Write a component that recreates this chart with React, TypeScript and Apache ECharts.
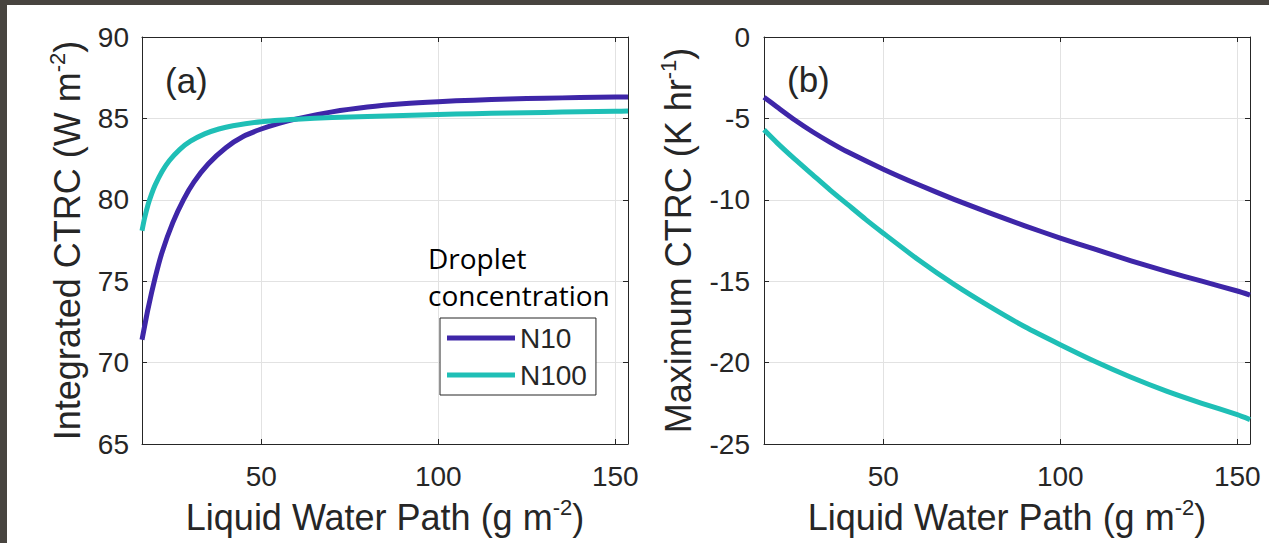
import React, { useEffect, useRef } from "react";
import * as echarts from "echarts";

// Panel (a): Integrated CTRC (W m-2) vs Liquid Water Path (g m-2)
const lwpA_N10 = [16.3, 18, 20, 22, 25, 28, 31, 35, 40, 45, 50, 55, 60, 70, 80, 90, 100, 110, 120, 130, 140, 150, 153.6];
const ctrcA_N10 = [71.4, 73.3, 75.2, 76.8, 78.6, 80.0, 81.1, 82.2, 83.2, 83.9, 84.35, 84.7, 84.97, 85.4, 85.7, 85.9, 86.03, 86.12, 86.19, 86.24, 86.28, 86.31, 86.32];
const lwpA_N100 = [16.3, 17, 18, 19, 20, 22, 24, 27, 30, 34, 38, 42, 50, 60, 70, 80, 90, 100, 110, 120, 130, 140, 150, 153.6];
const ctrcA_N100 = [78.1, 78.85, 79.7, 80.35, 80.9, 81.75, 82.4, 83.1, 83.6, 84.05, 84.35, 84.55, 84.8, 84.95, 85.05, 85.12, 85.18, 85.24, 85.29, 85.33, 85.37, 85.41, 85.44, 85.45];

// Panel (b): Maximum CTRC (K hr-1) vs Liquid Water Path (g m-2)
const lwpB_N10 = [16.3, 20, 25, 30, 35, 40, 50, 60, 70, 80, 90, 100, 110, 120, 130, 140, 150, 153.6];
const ctrcB_N10 = [-3.7, -4.3, -5.1, -5.82, -6.47, -7.07, -8.12, -9.08, -9.97, -10.8, -11.6, -12.35, -13.05, -13.75, -14.4, -15.0, -15.6, -15.85];
const lwpB_N100 = [16.3, 20, 25, 30, 35, 40, 45, 50, 60, 70, 80, 90, 100, 110, 120, 130, 140, 150, 153.6];
const ctrcB_N100 = [-5.7, -6.5, -7.5, -8.45, -9.4, -10.3, -11.2, -12.05, -13.7, -15.2, -16.55, -17.8, -18.9, -19.95, -20.9, -21.75, -22.5, -23.2, -23.5];

const xMin = 16.3;
const xMax = 153.6;
const xTicks = [50, 100, 150];
const yRangeA = [65, 90];
const yRangeB = [-25, 0];
const yStep = 5;

const seriesNames = ["N10", "N100"];
const panelTitles = ["(a)", "(b)"];
const xName = "Liquid Water Path (g m{sup|-2})";
const yNameA = "Integrated CTRC (W m{sup|-2})";
const yNameB = "Maximum CTRC (K hr{sup|-1})";
const legendTitle = ["Droplet", "concentration"];

const PURPLE = "#3e26a8";
const TEAL = "#1fbfb6";
const AX = "#262626";
const GRIDC = "#e2e2e2";
const FONT = '"Liberation Sans", Arial, Helvetica, sans-serif';

const zip = (xs: number[], ys: number[]) => xs.map((x, i) => [x, ys[i]]);

const nameStyle = {
  fontSize: 36,
  color: AX,
  fontFamily: FONT,
  lineHeight: 42,
  rich: {
    sup: { fontSize: 22, lineHeight: 10, verticalAlign: "top", color: AX, fontFamily: FONT },
  },
};

function bottomX(grid: number, name: string) {
  return {
    type: "value",
    gridIndex: grid,
    min: xMin,
    max: xMax,
    position: "bottom",
    axisLine: { show: true, onZero: false, lineStyle: { color: AX, width: 1 } },
    axisTick: { show: true, inside: true, length: 5, customValues: xTicks, lineStyle: { color: AX } },
    axisLabel: { show: true, customValues: xTicks, fontSize: 28, color: AX, fontFamily: FONT, margin: 18 },
    splitLine: { show: true, lineStyle: { color: GRIDC, width: 1 } },
    name,
    nameLocation: "middle",
    nameGap: 52,
    nameTextStyle: nameStyle,
  };
}

function topX(grid: number) {
  return {
    type: "value",
    gridIndex: grid,
    min: xMin,
    max: xMax,
    position: "top",
    axisLine: { show: true, onZero: false, lineStyle: { color: AX, width: 1 } },
    axisTick: { show: true, inside: true, length: 5, customValues: xTicks, lineStyle: { color: AX } },
    axisLabel: { show: false },
    splitLine: { show: false },
  };
}

function leftY(grid: number, range: number[], name: string, gap: number, margin: number) {
  return {
    type: "value",
    gridIndex: grid,
    min: range[0],
    max: range[1],
    interval: yStep,
    position: "left",
    axisLine: { show: true, onZero: false, lineStyle: { color: AX, width: 1 } },
    axisTick: { show: true, inside: true, length: 5, lineStyle: { color: AX } },
    axisLabel: { show: true, fontSize: 28, color: AX, fontFamily: FONT, margin },
    splitLine: { show: true, lineStyle: { color: GRIDC, width: 1 } },
    name,
    nameLocation: "middle",
    nameRotate: 90,
    nameGap: gap,
    nameTextStyle: nameStyle,
  };
}

function rightY(grid: number, range: number[]) {
  return {
    type: "value",
    gridIndex: grid,
    min: range[0],
    max: range[1],
    interval: yStep,
    position: "right",
    axisLine: { show: true, onZero: false, lineStyle: { color: AX, width: 1 } },
    axisTick: { show: true, inside: true, length: 5, lineStyle: { color: AX } },
    axisLabel: { show: false },
    splitLine: { show: false },
  };
}

function lineSeries(name: string, color: string, xi: number, data: number[][]) {
  return {
    type: "line",
    name,
    xAxisIndex: xi,
    yAxisIndex: xi,
    data,
    symbol: "none",
    showSymbol: false,
    smooth: 0.2,
    lineStyle: { width: 5, color, cap: "butt", join: "round" },
    itemStyle: { color },
  };
}

export default function App() {
  const ref = useRef<HTMLDivElement>(null);
  useEffect(() => {
    document.body.style.margin = "0";
    const chart = echarts.init(ref.current!, null, { renderer: "svg" });
    const option: any = {
      animation: false,
      backgroundColor: "#ffffff",
      grid: [
        { left: 142, top: 37, width: 486, height: 411 },
        { left: 764, top: 37, width: 486, height: 411 },
      ],
      title: [
        { text: panelTitles[0], left: 165, top: 63, padding: 0, textStyle: { fontSize: 35, fontWeight: "normal", color: AX, fontFamily: FONT } },
        { text: panelTitles[1], left: 787, top: 62, padding: 0, textStyle: { fontSize: 35, fontWeight: "normal", color: AX, fontFamily: FONT } },
      ],
      xAxis: [bottomX(0, xName), bottomX(1, xName), topX(0), topX(1)],
      yAxis: [
        leftY(0, yRangeA, yNameA, 54, 13),
        leftY(1, yRangeB, yNameB, 65, 14),
        rightY(0, yRangeA),
        rightY(1, yRangeB),
      ],
      legend: {
        data: seriesNames,
        orient: "vertical",
        left: 440,
        top: 318,
        padding: [5, 9, 5, 7],
        itemGap: 7,
        itemWidth: 68,
        itemHeight: 5,
        icon: "rect",
        backgroundColor: "#ffffff",
        borderColor: AX,
        borderWidth: 1,
        borderRadius: 0,
        textStyle: { fontSize: 28, color: AX, fontFamily: FONT, lineHeight: 30 },
      },
      series: [
        lineSeries(seriesNames[0], PURPLE, 0, zip(lwpA_N10, ctrcA_N10)),
        lineSeries(seriesNames[1], TEAL, 0, zip(lwpA_N100, ctrcA_N100)),
        lineSeries(seriesNames[0], PURPLE, 1, zip(lwpB_N10, ctrcB_N10)),
        lineSeries(seriesNames[1], TEAL, 1, zip(lwpB_N100, ctrcB_N100)),
      ],
      graphic: [
        { type: "rect", left: 0, top: 0, shape: { width: 1269, height: 5 }, style: { fill: "#48443f" }, z: 100 },
        { type: "rect", left: 0, top: 0, shape: { width: 7, height: 543 }, style: { fill: "#48443f" }, z: 100 },
        {
          type: "text",
          x: 428,
          y: 257.5,
          style: { text: legendTitle[0], font: '28px "Open Sans"', fill: "#000", verticalAlign: "middle", align: "left" },
          z: 100,
        },
        {
          type: "text",
          x: 428,
          y: 294.5,
          style: { text: legendTitle[1], font: '28px "Open Sans"', fill: "#000", verticalAlign: "middle", align: "left" },
          z: 100,
        },
      ],
    };
    chart.setOption(option);
    return () => chart.dispose();
  }, []);
  return <div ref={ref} style={{ width: 1269, height: 543, background: "#fff" }} />;
}
